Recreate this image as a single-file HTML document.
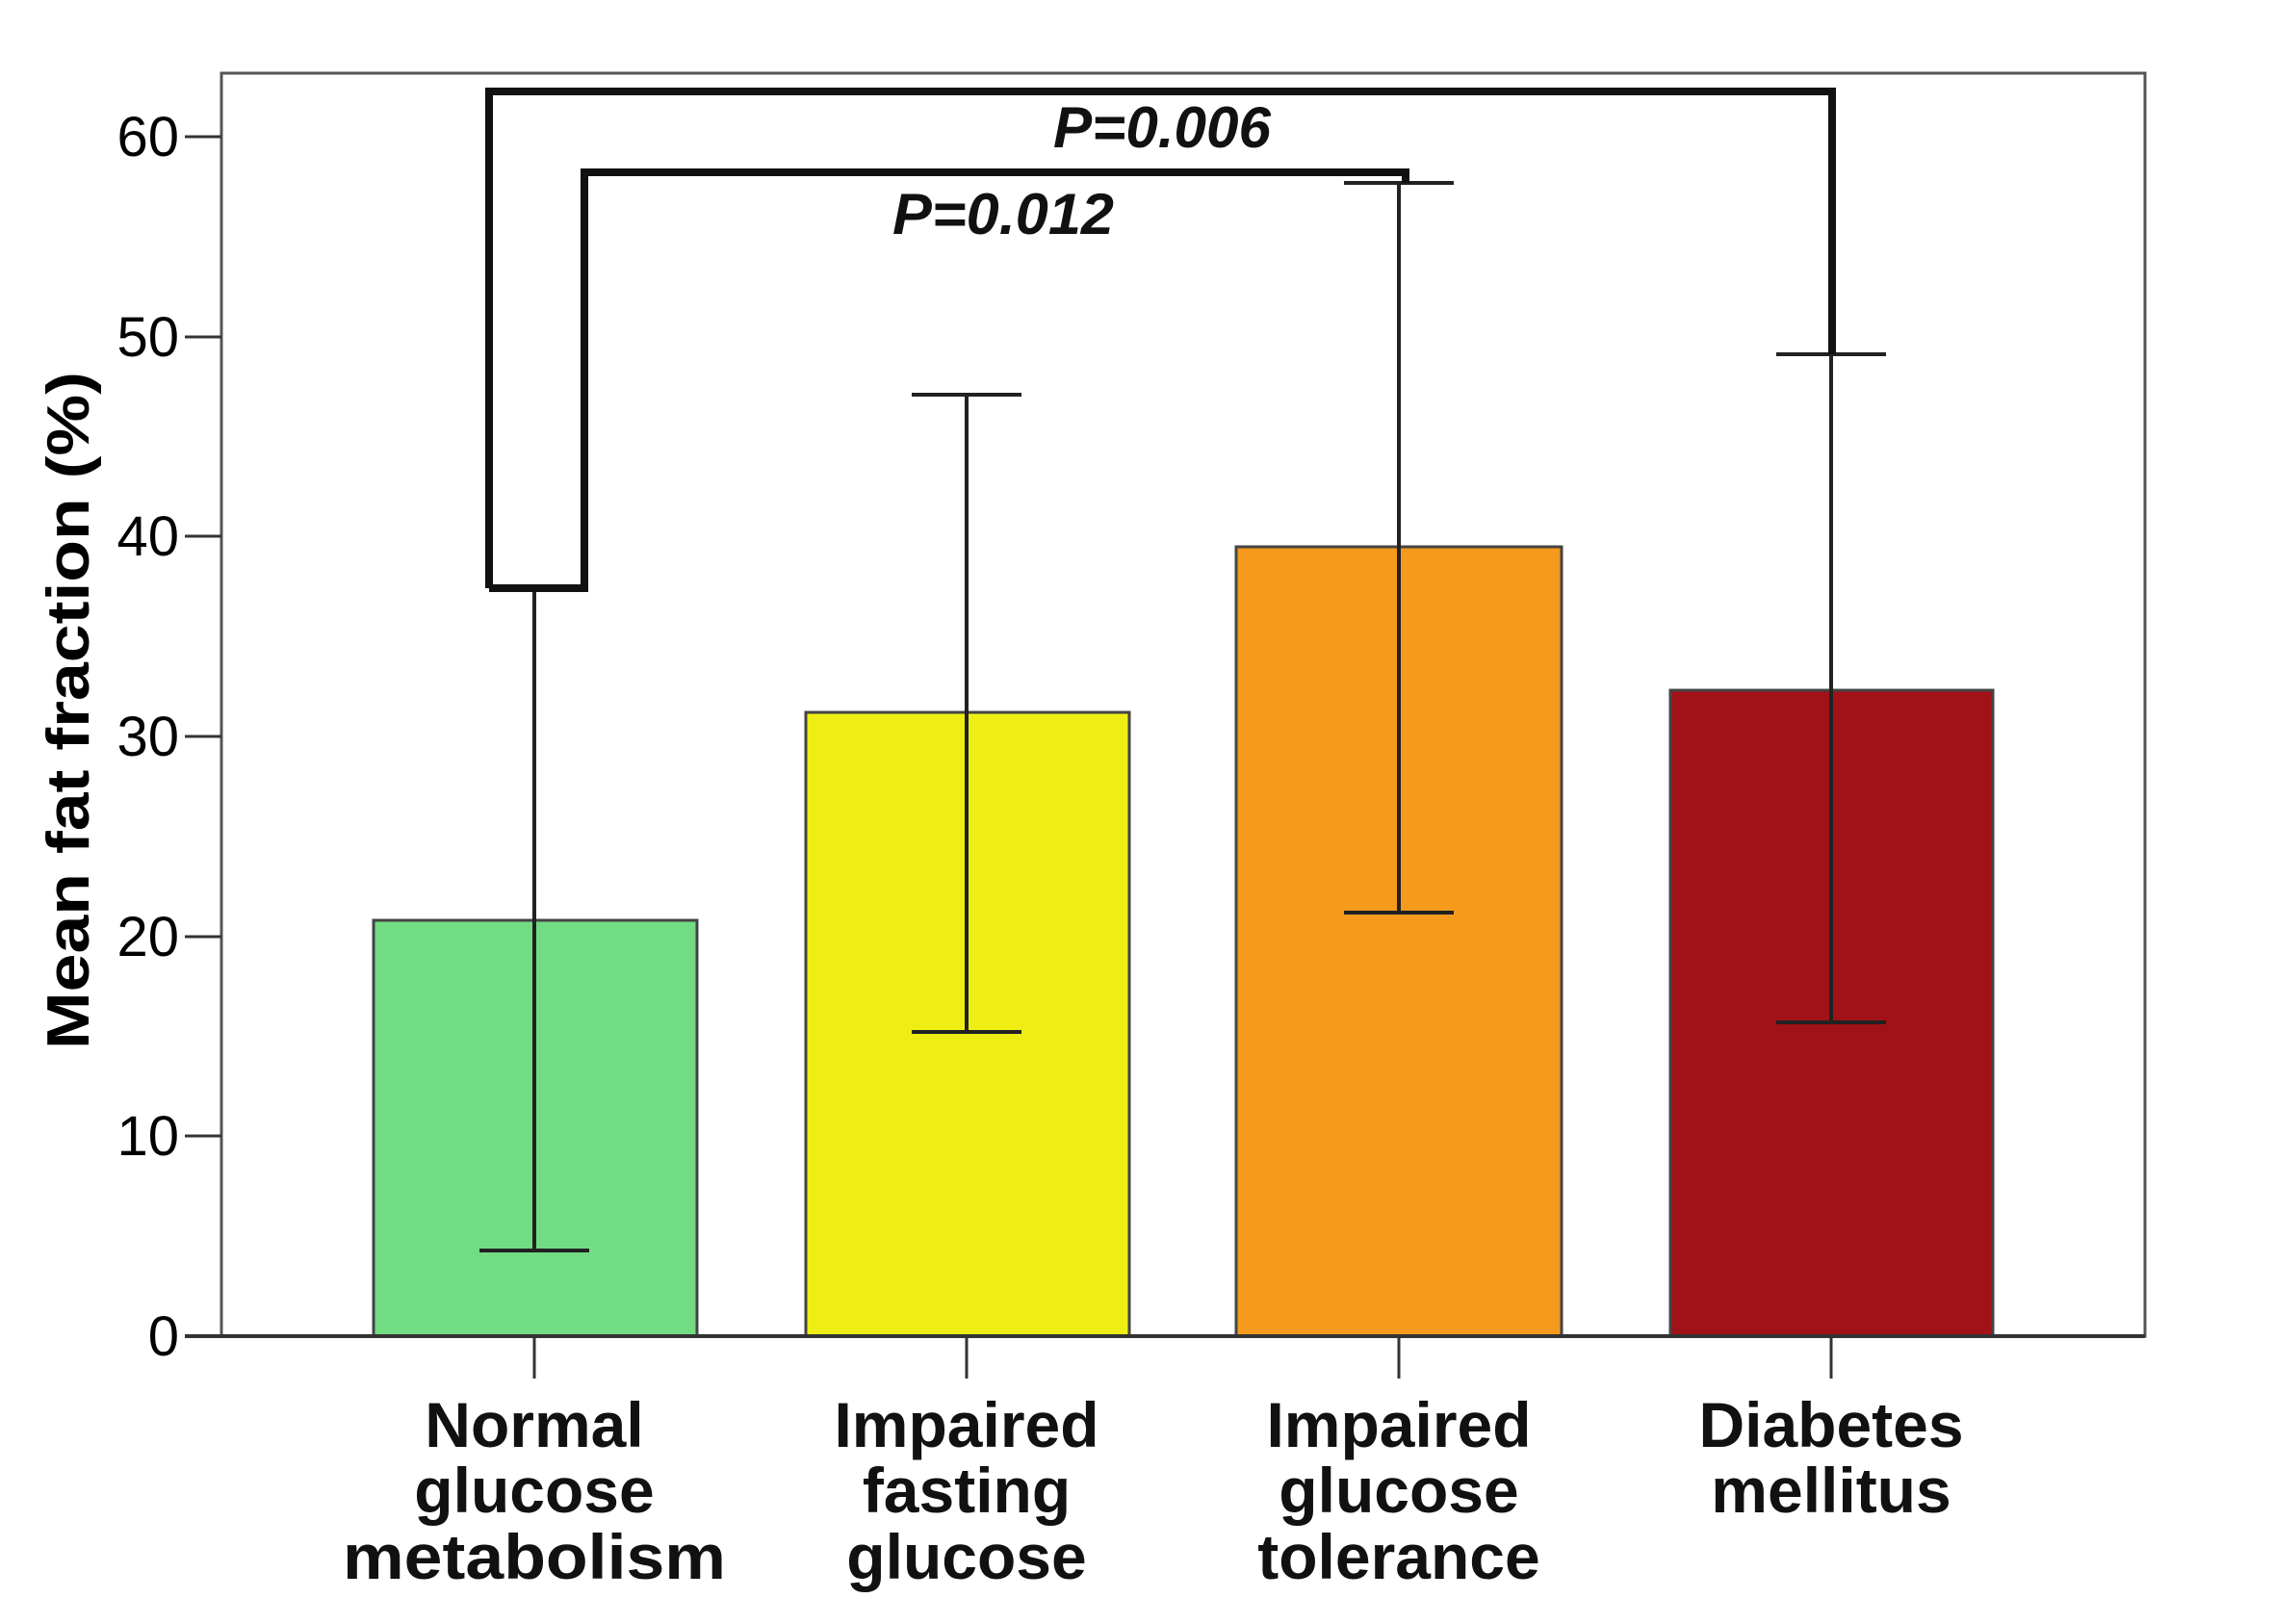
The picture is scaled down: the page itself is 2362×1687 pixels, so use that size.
<!DOCTYPE html>
<html><head><meta charset="utf-8"><style>html,body{margin:0;padding:0;background:#fff}svg{display:block}</style></head>
<body>
<svg width="2362" height="1687" viewBox="0 0 2362 1687" xmlns="http://www.w3.org/2000/svg" font-family="Liberation Sans, Arial, sans-serif">
<rect width="2362" height="1687" fill="#fff"/>
<rect x="230" y="76" width="1998" height="1312" fill="none" stroke="#555" stroke-width="3"/>
<rect x="388" y="956" width="336" height="432" fill="#72dc84" stroke="#444" stroke-width="3"/>
<rect x="837" y="740" width="336" height="648" fill="#eeee14" stroke="#444" stroke-width="3"/>
<rect x="1284" y="568" width="338" height="820" fill="#f59a1c" stroke="#444" stroke-width="3"/>
<rect x="1735" y="717" width="335" height="671" fill="#a11218" stroke="#444" stroke-width="3"/>
<line x1="192" y1="1388" x2="2228" y2="1388" stroke="#333" stroke-width="4"/>
<g stroke="#333" stroke-width="3">
<line x1="192" y1="1388" x2="230" y2="1388"/>
<line x1="192" y1="1180" x2="230" y2="1180"/>
<line x1="192" y1="973" x2="230" y2="973"/>
<line x1="192" y1="765" x2="230" y2="765"/>
<line x1="192" y1="557" x2="230" y2="557"/>
<line x1="192" y1="350" x2="230" y2="350"/>
<line x1="192" y1="142" x2="230" y2="142"/>
<line x1="555" y1="1388" x2="555" y2="1432"/>
<line x1="1004" y1="1388" x2="1004" y2="1432"/>
<line x1="1453" y1="1388" x2="1453" y2="1432"/>
<line x1="1902" y1="1388" x2="1902" y2="1432"/>
</g>
<g font-size="58" text-anchor="end" fill="#000">
<text x="186" y="1408">0</text>
<text x="186" y="1200">10</text>
<text x="186" y="993">20</text>
<text x="186" y="785">30</text>
<text x="186" y="577">40</text>
<text x="186" y="370">50</text>
<text x="186" y="162">60</text>
</g>
<g stroke="#222" stroke-width="4">
<line x1="555" y1="611" x2="555" y2="1299"/><line x1="498" y1="1299" x2="612" y2="1299"/>
<line x1="1004" y1="410" x2="1004" y2="1072"/><line x1="947" y1="410" x2="1061" y2="410"/><line x1="947" y1="1072" x2="1061" y2="1072"/>
<line x1="1453" y1="190" x2="1453" y2="948"/><line x1="1396" y1="190" x2="1510" y2="190"/><line x1="1396" y1="948" x2="1510" y2="948"/>
<line x1="1902" y1="368" x2="1902" y2="1062"/><line x1="1845" y1="368" x2="1959" y2="368"/><line x1="1845" y1="1062" x2="1959" y2="1062"/>
</g>
<g stroke="#111" stroke-width="8" fill="none">
<polyline points="508,611 508,95 1903,95 1903,368"/>
<polyline points="508,611 607,611 607,179 1460,179 1460,190"/>
</g>
<g font-size="60" font-weight="bold" font-style="italic" text-anchor="middle" fill="#111">
<text x="1207" y="153" textLength="226" lengthAdjust="spacingAndGlyphs">P=0.006</text>
<text x="1042" y="243" textLength="230" lengthAdjust="spacingAndGlyphs">P=0.012</text>
</g>
<text transform="translate(92,738) rotate(-90)" font-size="62" font-weight="bold" text-anchor="middle" textLength="704" lengthAdjust="spacingAndGlyphs">Mean fat fraction (%)</text>
<g font-size="66" font-weight="bold" text-anchor="middle" fill="#111">
<text x="555" y="1503">Normal</text><text x="555" y="1571">glucose</text><text x="555" y="1640" textLength="398" lengthAdjust="spacingAndGlyphs">metabolism</text>
<text x="1004" y="1503">Impaired</text><text x="1004" y="1571">fasting</text><text x="1004" y="1640">glucose</text>
<text x="1453" y="1503">Impaired</text><text x="1453" y="1571">glucose</text><text x="1453" y="1640">tolerance</text>
<text x="1902" y="1503">Diabetes</text><text x="1902" y="1571">mellitus</text>
</g>
</svg>
</body></html>
